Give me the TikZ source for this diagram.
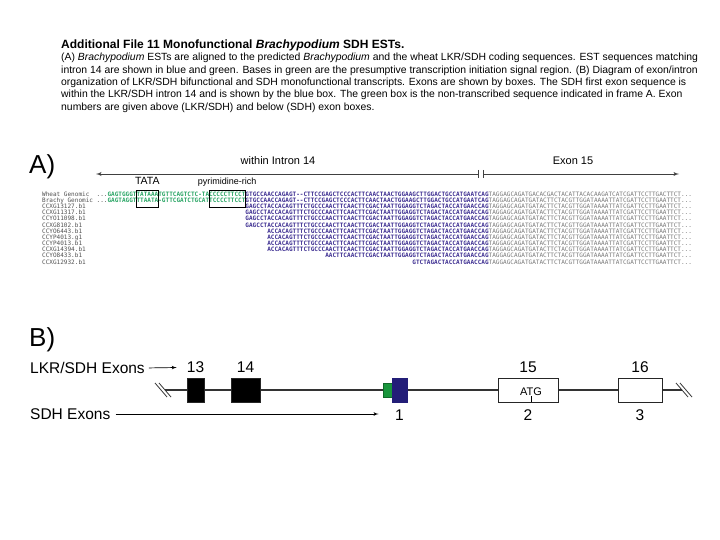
\documentclass[tikz,border=0pt]{standalone}
\usepackage{fontspec}
\setmainfont{Liberation Sans}
\setmonofont{DejaVu Sans Mono}
\usepackage{xcolor}
\usetikzlibrary{arrows,positioning}
\definecolor{grn}{RGB}{40,165,100}
\definecolor{blu}{RGB}{60,45,145}
\definecolor{gry}{RGB}{120,120,120}
\definecolor{labgry}{RGB}{80,80,80}
\definecolor{promgreen}{RGB}{25,150,60}
\definecolor{sdhblue}{RGB}{35,30,120}
\def\cw{3.63}
\def\tailseq{TAGGAGCAGATGATACTTCTACGTTGGATAAAATTATCGATTCCTTGAATTCT...}

\begin{document}
\begin{tikzpicture}[x=1pt,y=-1pt,>=latex']
        \tikzset{seq/.style={anchor=base west,inner sep=0pt,font=\ttfamily\fontsize{6.03}{6.2}\selectfont},
        seqlab/.style={seq,text=labgry},
        seqbox/.style={draw,line width=0.7pt,inner sep=0pt,minimum height=17},
        capline/.style={anchor=base west,inner sep=0pt,font=\fontsize{10.4}{12.6}\selectfont},
        panel/.style={anchor=base west,inner sep=0pt,font=\fontsize{26}{26}\selectfont},
        exlab/.style={inner sep=0pt,text height=11pt,text depth=0pt,font=\fontsize{15.5}{15.5}\selectfont},
        exbox/.style={draw=black!85,line width=0.9pt,fill=white,inner sep=0pt,minimum height=24},
        gline/.style={draw=black!80,line width=1.2pt},
        aline/.style={draw=black!75,line width=0.9pt}
        }
        \fill[white] (0,0) rectangle (720,540);
        \useasboundingbox (0,0) rectangle (720,540);

%% caption
        \node [capline,font=\bfseries\fontsize{12}{14}\selectfont] (title) at (61,48.3) {Additional File 11 Monofunctional \textit{Brachypodium} SDH ESTs.};
        \node [capline] (cap1) at (61,60.8) {(A) \textit{Brachypodium} ESTs are aligned to the predicted \textit{Brachypodium} and the wheat LKR/SDH coding sequences. EST sequences matching};
        \node [capline] (cap2) at (61,73.2) {intron 14 are shown in blue and green. Bases in green are the presumptive transcription initiation signal region. (B) Diagram of exon/intron};
        \node [capline] (cap3) at (61,85.6) {organization of LKR/SDH bifunctional and SDH monofunctional transcripts. Exons are shown by boxes. The SDH first exon sequence is};
        \node [capline] (cap4) at (61,98) {within the LKR/SDH intron 14 and is shown by the blue box. The green box is the non-transcribed sequence indicated in frame A. Exon};
        \node [capline] (cap5) at (61,110.4) {numbers are given above (LKR/SDH) and below (SDH) exon boxes.};

%% panel A
        \node [panel] (pa) at (29,174) {A)};
        \coordinate (aL) at (96,174);
        \coordinate (brk1) at (478.5,174);
        \coordinate (brk2) at (483.5,174);
        \coordinate (aR) at (679,174);
        \draw [aline,->] (brk1) -- (aL);
        \draw [aline,->] (brk2) -- (aR);
        \draw [aline] ([yshift=4pt]brk1) -- ([yshift=-4pt]brk1)
                      ([yshift=4pt]brk2) -- ([yshift=-4pt]brk2);
        \node [font=\fontsize{11}{11}\selectfont] (intronlab) at (278,161) {within Intron 14};
        \node [font=\fontsize{11}{11}\selectfont] (exonlab) at (573,161) {Exon 15};

        \node [seqlab] (lab1) at (42,196.2) {Wheat Genomic};
        \node [seq,text=labgry] (seq1) at ({42+15*\cw},196.2) {...\textcolor{grn}{\bfseries GAGTGGGTTATAAATGTTCAGTCTC-TACCCCCTTCCT}\textcolor{blu}{\bfseries GTGCCAACCAGAGT--CTTCCGAGCTCCCACTTCAACTAACTGGAAGCTTGGACTGCCATGAATCAG}\textcolor{gry}{TAGGAGCAGATGACACGACTACATTACACAAGATCATCGATTCCTTGACTTCT...}};
        \node [seqlab] (lab2) at (42,202.38) {Brachy Genomic};
        \node [seq,text=labgry] (seq2) at ({42+15*\cw},202.38) {...\textcolor{grn}{\bfseries GAGTAGGTTTAATA-GTTCGATCTGCATTCCCCTTCCT}\textcolor{blu}{\bfseries GTGCCAACCAGAGT--CTTCCGAGCTCCCACTTCAACTAACTGGAAGCTTGGACTGCCATGAATCAG}\textcolor{gry}{\tailseq}};
        \foreach \nm/\off/\bl [count=\i from 3] in {
            CCXG13127.b1/0/GAGCCTACCACAGTTTCTGCCCAACTTCAACTTCGACTAATTGGAGGTCTAGACTACCATGAACCAG,
            CCXG11317.b1/0/GAGCCTACCACAGTTTCTGCCCAACTTCAACTTCGACTAATTGGAGGTCTAGACTACCATGAACCAG,
            CCYO11098.b1/0/GAGCCTACCACAGTTTCTGCCCAACTTCAACTTCGACTAATTGGAGGTCTAGACTACCATGAACCAG,
            CCXG8102.b1/0/GAGCCTACCACAGTTTCTGCCCAACTTCAACTTCGACTAATTGGAGGTCTAGACTACCATGAACCAG,
            CCYO6443.b1/6/ACCACAGTTTCTGCCCAACTTCAACTTCGACTAATTGGAGGTCTAGACTACCATGAACCAG,
            CCYP4013.g1/6/ACCACAGTTTCTGCCCAACTTCAACTTCGACTAATTGGAGGTCTAGACTACCATGAACCAG,
            CCYP4013.b1/6/ACCACAGTTTCTGCCCAACTTCAACTTCGACTAATTGGAGGTCTAGACTACCATGAACCAG,
            CCXG14394.b1/6/ACCACAGTTTCTGCCCAACTTCAACTTCGACTAATTGGAGGTCTAGACTACCATGAACCAG,
            CCYO8433.b1/22/AACTTCAACTTCGACTAATTGGAGGTCTAGACTACCATGAACCAG,
            CCXG12932.b1/46/GTCTAGACTACCATGAACCAG}{
            \node [seqlab] (lab\i) at (42,{196.2+(\i-1)*6.18}) {\nm};
            \node [seq] (seq\i) at ({42+(56+\off)*\cw},{196.2+(\i-1)*6.18}) {\textcolor{blu}{\bfseries\bl}\textcolor{gry}{\tailseq}};
        }
        \node [seqbox,minimum width={6*\cw}] (tatabox) at ({42+29*\cw},198.5) {};
        \node [seqbox,minimum width={10*\cw}] (pyrbox) at ({42+51*\cw},198.5) {};
        \node [inner sep=0pt,font=\fontsize{10.5}{10.5}\selectfont,above=5pt of tatabox] (tata) {TATA};
        \node [inner sep=0pt,font=\fontsize{9}{9}\selectfont,above=3pt of pyrbox] (pyr) {pyrimidine-rich};

%% panel B
        \node [panel] (pb) at (29,346) {B)};
        \node [exlab,anchor=west] (lkrlab) at (30,368) {LKR/SDH Exons};
        \node [exlab,anchor=west] (sdhlab) at (30,414) {SDH Exons};
        \coordinate (gl) at (165,390);
        \coordinate (gr) at (682,390);
        \draw [gline] (gl) -- (gr);
        \foreach \dx in {-4,0} {
            \draw [gline,line width=0.8pt] ([shift={(\dx-6,-7)}]gl) -- ([shift={(\dx+6,7)}]gl);
            \draw [gline,line width=0.8pt] ([shift={(\dx-2,-7)}]gr) -- ([shift={(\dx+10,7)}]gr);
        }
        \node [exbox,fill=black,minimum width=17] (e13) at (195.5,390) {};
        \node [exbox,fill=black,minimum width=29] (e14) at (245.5,390) {};
        \node [exbox,fill=promgreen,draw=promgreen!70!black,minimum width=9,minimum height=14] (prom) at (387.5,390) {};
        \node [exbox,fill=sdhblue,draw=sdhblue,minimum width=15] (sdh1) at (399.5,390) {};
        \node [exbox,minimum width=60] (e15) at (528,390) {};
        \node [exbox,minimum width=44] (e16) at (640,390) {};
        \node [exlab,above=4.5pt of e13] (n13) {13};
        \node [exlab,above=4.5pt of e14] (n14) {14};
        \node [exlab,above=4.5pt of e15] (n15) {15};
        \node [exlab,above=4.5pt of e16] (n16) {16};
        \node [exlab,below=6.5pt of sdh1] (s1) {1};
        \node [exlab,below=6.5pt of e15] (s2) {2};
        \node [exlab,below=6.5pt of e16] (s3) {3};
        \node [inner sep=0pt,font=\fontsize{11}{11}\selectfont] (atg) at (531,392) {ATG};
        \draw [line width=0.6pt] (atg.south) -- (atg.south |- e15.south);

%% paths
        \draw [->,line width=0.7pt,shorten <=4pt,shorten >=10pt] (lkrlab.east) -- (n13.west);
        \draw [->,line width=0.7pt,shorten <=5pt,shorten >=4pt] (sdhlab.east) -- (sdhlab.east -| prom.west);
\end{tikzpicture}
\end{document}
